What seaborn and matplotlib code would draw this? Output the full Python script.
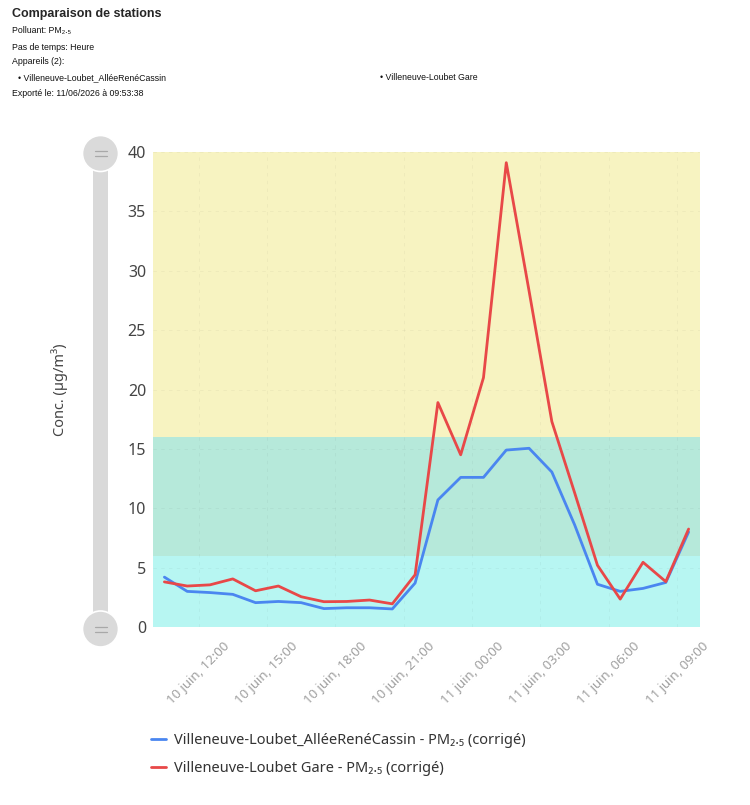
import pandas as pd
import seaborn as sns
import matplotlib.pyplot as plt
from matplotlib.patches import Rectangle, Circle
from matplotlib.lines import Line2D

# données (µg/m3), une valeur par heure
heures = pd.date_range("2026-06-10 10:30", periods=24, freq="h")
cassin = [4.2, 3.0, 2.9, 2.75, 2.05, 2.15, 2.05, 1.55, 1.62, 1.62, 1.52, 3.7,
          10.7, 12.6, 12.6, 14.9, 15.05, 13.05, 8.6, 3.6, 3.0, 3.25, 3.75, 8.0]
gare = [3.8, 3.45, 3.55, 4.05, 3.05, 3.45, 2.55, 2.13, 2.15, 2.27, 1.95, 4.4,
        18.9, 14.5, 21.0, 39.1, 28.3, 17.3, 11.3, 5.2, 2.35, 5.45, 3.82, 8.25]
noms = ["Villeneuve-Loubet_AlléeRenéCassin - PM₂.₅ (corrigé)",
        "Villeneuve-Loubet Gare - PM₂.₅ (corrigé)"]
couleurs = ["#4a86f0", "#e84848"]

tick_heures = ["2026-06-10 12:00", "2026-06-10 15:00", "2026-06-10 18:00", "2026-06-10 21:00",
               "2026-06-11 00:00", "2026-06-11 03:00", "2026-06-11 06:00", "2026-06-11 09:00"]
tick_labels = ["10 juin, 12:00", "10 juin, 15:00", "10 juin, 18:00", "10 juin, 21:00",
               "11 juin, 00:00", "11 juin, 03:00", "11 juin, 06:00", "11 juin, 09:00"]

# seuils des bandes de couleur
bandes = [(0, 6, "#b7f6f2"), (6, 16, "#b6e9da"), (16, 40, "#f7f3c1")]

df = pd.DataFrame({
    "Heure": list(heures) * 2,
    "Conc": cassin + gare,
    "Appareil": [noms[0]] * len(cassin) + [noms[1]] * len(gare),
})

sns.set_style("white")
plt.rcParams['font.family'] = ['Noto Sans', 'DejaVu Sans']

fig = plt.figure(figsize=(7.5, 8.05), dpi=100)
ax = fig.add_axes([153 / 750, 1 - 627 / 805, 547 / 750, 475 / 805])

for y0, y1, c in bandes:
    ax.axhspan(y0, y1, color=c, lw=0, zorder=0)

sns.lineplot(data=df, x="Heure", y="Conc", hue="Appareil", palette=couleurs,
             linewidth=2, ax=ax, zorder=3)
handles, labels = ax.get_legend_handles_labels()
ax.get_legend().remove()

ax.set_xlim(pd.Timestamp("2026-06-10 10:00"), pd.Timestamp("2026-06-11 10:00"))
ax.set_ylim(0, 40)
ax.set_yticks(range(0, 41, 5))
ax.set_xticks(pd.to_datetime(tick_heures))
ax.set_xticklabels(tick_labels, rotation=45, ha='center', va='top')
ax.tick_params(axis='x', length=0, pad=9, labelsize=9.5, labelcolor='#a0a0a0')
ax.tick_params(axis='y', length=0, pad=5, labelsize=11.5, labelcolor='#444444')
ax.set_xlabel("")
ax.set_ylabel("")
ax.grid(True, color='#000000', alpha=0.035, linestyle=(0, (3, 4)), linewidth=0.8, zorder=1)
for s in ax.spines.values():
    s.set_visible(False)

fig.text(60 / 750, 1 - 390 / 805, "Conc. (µg/m³)", rotation=90, ha='center', va='center',
         fontsize=10.5, color='#444444')

# curseur gris à gauche
tr = fig.dpi_scale_trans
fig.add_artist(Rectangle((0.93, (805 - 629) / 100), 0.15, 4.755, transform=tr,
                         facecolor='#d9d9d9', edgecolor='none'))
for yp in (153.5, 629):
    yc = (805 - yp) / 100
    fig.add_artist(Circle((1.005, yc), 0.18, transform=tr, facecolor='#dadada',
                          edgecolor='white', linewidth=1.2))
    for dy in (0.025, -0.025):
        fig.add_artist(Line2D([0.945, 1.065], [yc + dy, yc + dy], transform=tr,
                              color='#a8a8a8', linewidth=0.9))

# légende
fig.legend(handles, labels, loc='upper left', bbox_to_anchor=(151 / 750, 1 - 733 / 805),
           frameon=False, fontsize=10.5, handlelength=1.0, handletextpad=0.6,
           labelspacing=0.9, borderpad=0, borderaxespad=0, labelcolor='#333333')

# en-tête
entete = ['Liberation Sans', 'DejaVu Sans']
fig.text(12 / 750, 1 - 14 / 805, "Comparaison de stations", fontsize=9, fontweight='bold',
         family=entete, va='center')
lignes = [(12, 31, "Polluant: PM₂.₅"), (12, 47, "Pas de temps: Heure"), (12, 62, "Appareils (2):"),
          (18, 78, "• Villeneuve-Loubet_AlléeRenéCassin"), (380, 78, "• Villeneuve-Loubet Gare"),
          (12, 93, "Exporté le: 11/06/2026 à 09:53:38")]
for x, y, t in lignes:
    fig.text(x / 750, 1 - y / 805, t, fontsize=6.3, family=entete, va='center', color='#111111')

fig.savefig("out.png", dpi=100)
plt.close()
